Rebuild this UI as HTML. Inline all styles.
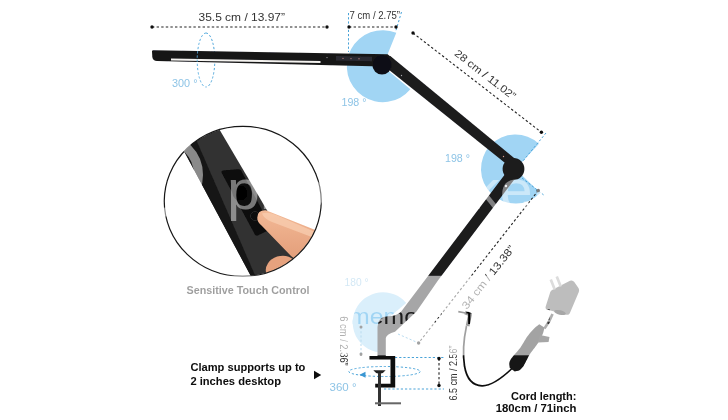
<!DOCTYPE html>
<html lang="en">
<head>
<meta charset="utf-8">
<title>Desk lamp dimensions</title>
<style>
  html, body { margin: 0; padding: 0; background: #ffffff; }
  body { width: 728px; height: 420px; overflow: hidden; }
  svg { display: block; }
  text { font-family: "Liberation Sans", sans-serif; }
  .dim { fill: #333333; font-size: 10.6px; }
  .bold { font-weight: bold; }
</style>
</head>
<body>
<svg width="728" height="420" viewBox="0 0 728 420">
  <defs>
    <clipPath id="insetClip"><ellipse cx="242.75" cy="201.3" rx="78.2" ry="74.8"/></clipPath>
    <mask id="bandMask" maskUnits="userSpaceOnUse" x="0" y="270" width="728" height="90">
      <rect x="0" y="270" width="728" height="90" fill="#fff"/>
      <text x="130" y="323.8" font-size="22.5" fill="#000" textLength="208" lengthAdjust="spacingAndGlyphs">Protect more of your</text>
      <text x="349" y="323.8" font-size="22.5" fill="#000" textLength="109" lengthAdjust="spacingAndGlyphs">memories</text>
      <text x="466" y="323.8" font-size="22.5" fill="#000" textLength="86" lengthAdjust="spacingAndGlyphs">for less!</text>
    </mask>
    <filter id="soft" x="-5%" y="-5%" width="110%" height="110%"><feGaussianBlur stdDeviation="0.45"/></filter>
    <linearGradient id="fingerG" x1="0" y1="0" x2="0" y2="1">
      <stop offset="0" stop-color="#f3b996"/>
      <stop offset="1" stop-color="#d98d68"/>
    </linearGradient>
  </defs>

  <rect x="0" y="0" width="728" height="420" fill="#ffffff"/>

  <g filter="url(#soft)">
  <!-- ===== blue angle sectors ===== -->
  <!-- head joint sector -->
  <path d="M382.8 66.2 L396.3 32.8 A36 36 0 1 0 410.4 89.3 Z" fill="#a1d5f4"/>
  <!-- elbow sector -->
  <path d="M515.5 169.0 L539.0 143.8 A34.5 34.5 0 1 0 540.3 193.0 Z" fill="#a1d5f4"/>
  <!-- base sector -->
  <path d="M383.0 322.5 L406.2 303.0 A30.3 30.3 0 1 0 383.0 352.8 Z" fill="#a1d5f4"/>

  <!-- blue dashed helper lines -->
  <g fill="none" stroke="#4aa3d8" stroke-width="1" stroke-dasharray="2.2 2">
    <path d="M206 33 A8.8 27 0 0 1 206 87"/>
    <line x1="348.5" y1="13" x2="348.5" y2="52"/>
    <line x1="401.5" y1="12" x2="395.5" y2="32"/>
    <line x1="546" y1="133" x2="523" y2="161"/>
    <line x1="522" y1="178" x2="545" y2="196"/>
    <line x1="361" y1="327" x2="361" y2="354"/>
    <line x1="398" y1="334" x2="418.5" y2="343"/>
    <line x1="395" y1="357.5" x2="444" y2="357.5"/>
    <line x1="384" y1="389" x2="444" y2="389"/>
    <ellipse cx="384.5" cy="371.5" rx="35.7" ry="5"/>
  </g>
  <path d="M359.5 374.8 L365.5 371.8 L365.5 377.8 Z" fill="#3b97d3"/>

  <!-- ===== lamp ===== -->
  <!-- head -->
  <path d="M152 51.5 Q152 50.2 153.5 50.3 L387.6 54.3 L394 59.5 L388 68 L372 66.2 L157 61 Q153 60.8 152.3 57 Z" fill="#161618"/>
  <path d="M171 58.6 L320.5 61 L320.5 63 L171 60.6 Z" fill="#f4f2ef"/>
  <path d="M336 56 L372 56.8 L372 61.2 L336 60.4 Z" fill="#2b2b33"/>
  <circle cx="343" cy="58.4" r="0.7" fill="#b07a7a"/>
  <circle cx="351" cy="58.6" r="0.7" fill="#b07a7a"/>
  <circle cx="359" cy="58.8" r="0.7" fill="#b07a7a"/>
  <circle cx="327" cy="57.6" r="0.7" fill="#999"/>
  <path d="M206 33 A8.8 27 0 0 0 206 87" fill="none" stroke="#5aaee0" stroke-width="1" stroke-dasharray="2.2 2"/>
  <!-- upper arm -->
  <path d="M382.9 64.9 L516.0 171.8 L522.0 164.4 L390.3 55.9 Z" fill="#1b1b1d"/>
  <circle cx="382" cy="64.8" r="9.7" fill="#111113"/>
  <circle cx="401.5" cy="75.5" r="0.7" fill="#aaa"/>
  <circle cx="503.5" cy="156.5" r="0.7" fill="#d9a08a"/>
  <!-- lower arm -->
  <path d="M504.8 174.5 L401 311.7 Q396 316.2 388 316.2 Q377.5 316.5 377.5 327 L377.5 357 L385.8 357 L385.8 338 Q386.5 334 395 331.7 L416.5 311.5 L438.3 280 L517 176 Z" fill="#1b1b1d"/>
  <circle cx="513.5" cy="169" r="10.9" fill="#1b1b1d"/>
  <circle cx="506" cy="186" r="1.2" fill="#e8e8e8"/>
  <!-- base joint and post -->
  <!-- clamp -->
  <path d="M369.5 356 L395.2 356 L395.2 387.6 L375.2 387.6 L375.2 383.8 L390.5 383.8 L390.5 359.4 L369.5 359.4 Z" fill="#0c0c0c"/>
  <path d="M373.3 370.2 L385.7 370.2 Q383.2 373.2 380.8 373.6 L378.2 373.6 Q375.8 373.2 373.3 370.2 Z" fill="#222"/>
  <rect x="378" y="373" width="3" height="33" fill="#333"/>
  <rect x="375" y="402.3" width="26" height="2" fill="#666"/>

  <!-- ===== dimension lines ===== -->
  <g stroke="#222" stroke-width="1.1" fill="none" stroke-dasharray="2.4 2.2">
    <line x1="152" y1="27" x2="327" y2="27"/>
    <line x1="349" y1="27" x2="396" y2="27"/>
    <line x1="413" y1="33" x2="541.4" y2="132.3"/>
    <line x1="538.3" y1="190.5" x2="418.6" y2="343"/>
    <line x1="439" y1="358.5" x2="439" y2="385.5"/>
  </g>
  <g fill="#111">
    <circle cx="152" cy="27" r="1.7"/><circle cx="327" cy="27" r="1.7"/>
    <circle cx="349" cy="27" r="1.7"/><circle cx="396" cy="27" r="1.7"/>
    <circle cx="413" cy="33" r="1.7"/><circle cx="541.4" cy="132.3" r="1.7"/>
    <circle cx="538.3" cy="190.5" r="1.7"/><circle cx="418.6" cy="343" r="1.7"/>
    <circle cx="439" cy="358.5" r="1.7"/><circle cx="439" cy="385.5" r="1.7"/>
    <circle cx="361" cy="327" r="1.5"/><circle cx="361" cy="354" r="1.5"/>
  </g>

  <!-- ===== inset circle ===== -->
  <g clip-path="url(#insetClip)">
    <rect x="160" y="120" width="170" height="165" fill="#ffffff"/>
    <!-- bar: dark left face + lighter front face -->
    <path d="M164.7 115 L210.9 115 L316.9 295 L261 295 Z" fill="#303030"/>
    <path d="M164.7 115 L185.4 115 L263.5 295 L261 295 Z" fill="#151515"/>
    <!-- touch panel -->
    <path d="M221.5 172.5 Q221 170.6 223 170.4 L238.5 169.2 Q240.4 169 241.2 170.8 L271 227 Q271.8 228.8 270 229.6 L257.5 235.4 Q255.6 236 254.8 234.2 Z" fill="#0a0a0a"/>
    <circle cx="240" cy="193" r="7.5" fill="#050505"/>
    <circle cx="255" cy="216" r="4.5" fill="none" stroke="#2a2a2a" stroke-width="1"/>
    <!-- finger -->
    <path d="M257.3 217.5 Q257.5 209.8 266.5 210.4 L330 236 L330 290 L312 272 L291 256 L261.5 225.5 Q257 222 257.3 217.5 Z" fill="url(#fingerG)"/>
    <path d="M262 213.5 Q268 211.5 276 215 L322 235 L322 241 L272 222 Q264 219 262 213.5 Z" fill="#f8cdb0" opacity="0.75"/>
    <!-- thumb -->
    <ellipse cx="281" cy="268.5" rx="15.5" ry="12.5" transform="rotate(-18 281 268.5)" fill="#e6a27e"/>
  </g>
  <ellipse cx="242.75" cy="201.3" rx="78.5" ry="75" fill="none" stroke="#151515" stroke-width="1.2"/>

  <!-- ===== adapter + cord ===== -->
  <path d="M552.5 289.8 L570 280.8 Q572.6 279.8 574.3 282 L578.6 288.3 Q579.6 290 578.8 292 L569.8 313.2 Q568.8 315.3 566.4 314.7 L547.6 309.8 Q545 309 545.7 306.4 L550.3 292 Q550.9 290.5 552.5 289.8 Z" fill="#555555"/>
  <path d="M549.5 280 L552 279 L556 289 L553.5 290 Z M555.5 277 L558 276 L562 286 L559.5 287 Z" fill="#a5a5a5"/>
  <ellipse cx="560" cy="312.5" rx="6" ry="2.2" fill="#1e1e1e" transform="rotate(14 560 312.5)"/>
  <path d="M552.5 314 Q550 321 544.5 328.5" fill="none" stroke="#333" stroke-width="2.6"/>
  <path d="M539.3 324.2 L538.3 325.1 L537.1 326.0 L536.0 326.8 L534.9 327.8 L533.9 328.7 L533.0 329.7 L532.0 330.7 L531.1 331.7 L530.2 332.8 L529.4 333.8 L528.5 334.9 L527.7 336.0 L526.9 337.1 L526.1 338.2 L525.4 339.4 L524.7 340.5 L524.0 341.7 L523.3 342.9 L522.6 344.0 L521.9 345.2 L521.2 346.3 L520.5 347.5 L519.7 348.6 L518.8 349.6 L517.9 350.7 L517.0 351.7 L516.1 352.7 L515.2 353.7 L514.3 354.8 L513.4 355.8 L512.5 356.9 L511.7 357.9 L510.9 359.0 L510.3 360.2 L509.7 361.5 L509.3 362.9 L509.3 364.5 L509.5 366.2 L509.8 368.1 L514.8 371.5 L516.6 371.1 L518.4 370.7 L519.9 370.0 L521.0 369.1 L521.9 368.1 L522.8 367.1 L523.6 366.0 L524.2 364.8 L524.9 363.6 L525.5 362.4 L526.1 361.1 L526.8 359.9 L527.4 358.7 L528.0 357.5 L528.6 356.3 L529.3 355.1 L530.0 354.0 L530.8 352.8 L531.6 351.8 L532.4 350.7 L533.2 349.6 L534.1 348.5 L534.9 347.4 L535.7 346.3 L536.5 345.2 L537.3 344.1 L538.1 343.0 L538.7 341.8 L539.4 340.6 L540.0 339.4 L540.7 338.2 L541.3 337.0 L541.9 335.8 L542.5 334.5 L543.0 333.2 L543.4 331.9 L543.8 330.5 L544.2 329.1 L544.7 327.8 Z" fill="#141414"/>
  <path d="M540 335 L549.5 337 L548.6 342 L538 342.5 Z" fill="#1c1c1c"/>
  <path d="M512 368.5 C502 378 491 386 482 385.8 C472 385.5 466.5 378 464.5 366 C462.8 355 463.5 340 466.5 326" fill="none" stroke="#0c0c0c" stroke-width="1.7"/>
  <path d="M465 312.6 L470 314.6 L467.6 326" fill="none" stroke="#000" stroke-width="3.8" stroke-linejoin="round"/>
  <path d="M465.5 313 L458.3 311.6" stroke="#000" stroke-width="1.6" fill="none"/>

  <!-- ===== labels ===== -->
  <text class="dim" x="198.5" y="21.3" textLength="86.5" lengthAdjust="spacingAndGlyphs">35.5 cm / 13.97”</text>
  <text class="dim" x="349.5" y="19" font-size="10.5" textLength="50.5" lengthAdjust="spacingAndGlyphs" style="font-size:10.5px">7 cm / 2.75”</text>
  <text class="dim" transform="translate(483 77.5) rotate(37.7)" text-anchor="middle" textLength="74" lengthAdjust="spacingAndGlyphs">28 cm / 11.02”</text>
  <text class="dim" transform="translate(491 279.5) rotate(-51.5)" text-anchor="middle" textLength="78" lengthAdjust="spacingAndGlyphs">34 cm / 13.38”</text>
  <text class="dim" transform="translate(456.5 373) rotate(-90)" text-anchor="middle" style="font-size:10px" textLength="55" lengthAdjust="spacingAndGlyphs">6.5 cm / 2.56”</text>
  <text class="dim" transform="translate(339.5 341) rotate(90)" text-anchor="middle" style="font-size:10px" textLength="49.5" lengthAdjust="spacingAndGlyphs">6 cm / 2.36”</text>

  <g fill="#8ec4e6" font-size="10.5">
    <text x="172" y="86.8" textLength="25.5" lengthAdjust="spacingAndGlyphs">300 °</text>
    <text x="341.5" y="106" textLength="25" lengthAdjust="spacingAndGlyphs">198 °</text>
    <text x="445" y="162" textLength="25" lengthAdjust="spacingAndGlyphs">198 °</text>
    <text x="344.5" y="285.5" textLength="24" lengthAdjust="spacingAndGlyphs">180 °</text>
    <text x="329.5" y="390.6" textLength="27" lengthAdjust="spacingAndGlyphs">360 °</text>
  </g>

  <text class="bold" x="186.5" y="294.2" font-size="11.5" fill="#050505" textLength="123" lengthAdjust="spacingAndGlyphs">Sensitive Touch Control</text>
  <text class="bold" x="190.4" y="370.8" font-size="11" fill="#0a0a0a" textLength="115" lengthAdjust="spacingAndGlyphs">Clamp supports up to</text>
  <text class="bold" x="190.4" y="385" font-size="11" fill="#0a0a0a" textLength="90.6" lengthAdjust="spacingAndGlyphs">2 inches desktop</text>
  <path d="M314 370.8 L321.2 375 L314 379.2 Z" fill="#0a0a0a"/>
  <text class="bold" x="576.4" y="399.7" font-size="10.5" fill="#0a0a0a" text-anchor="end" textLength="65.4" lengthAdjust="spacingAndGlyphs">Cord length:</text>
  <text class="bold" x="576.4" y="412" font-size="10.5" fill="#0a0a0a" text-anchor="end" textLength="80.7" lengthAdjust="spacingAndGlyphs">180cm / 71inch</text>

  <!-- ===== translucent watermark overlay ===== -->
  <circle cx="161" cy="175" r="37.5" fill="none" stroke="#ffffff" stroke-opacity="0.5" stroke-width="9"/>
  <text x="227" y="208.5" font-size="56" fill="#ffffff" fill-opacity="0.45" textLength="322" lengthAdjust="spacingAndGlyphs">photobucket</text>
  <rect x="0" y="275.8" width="728" height="79.5" fill="#ffffff" fill-opacity="0.61" mask="url(#bandMask)"/>
  </g>
</svg>
</body>
</html>
